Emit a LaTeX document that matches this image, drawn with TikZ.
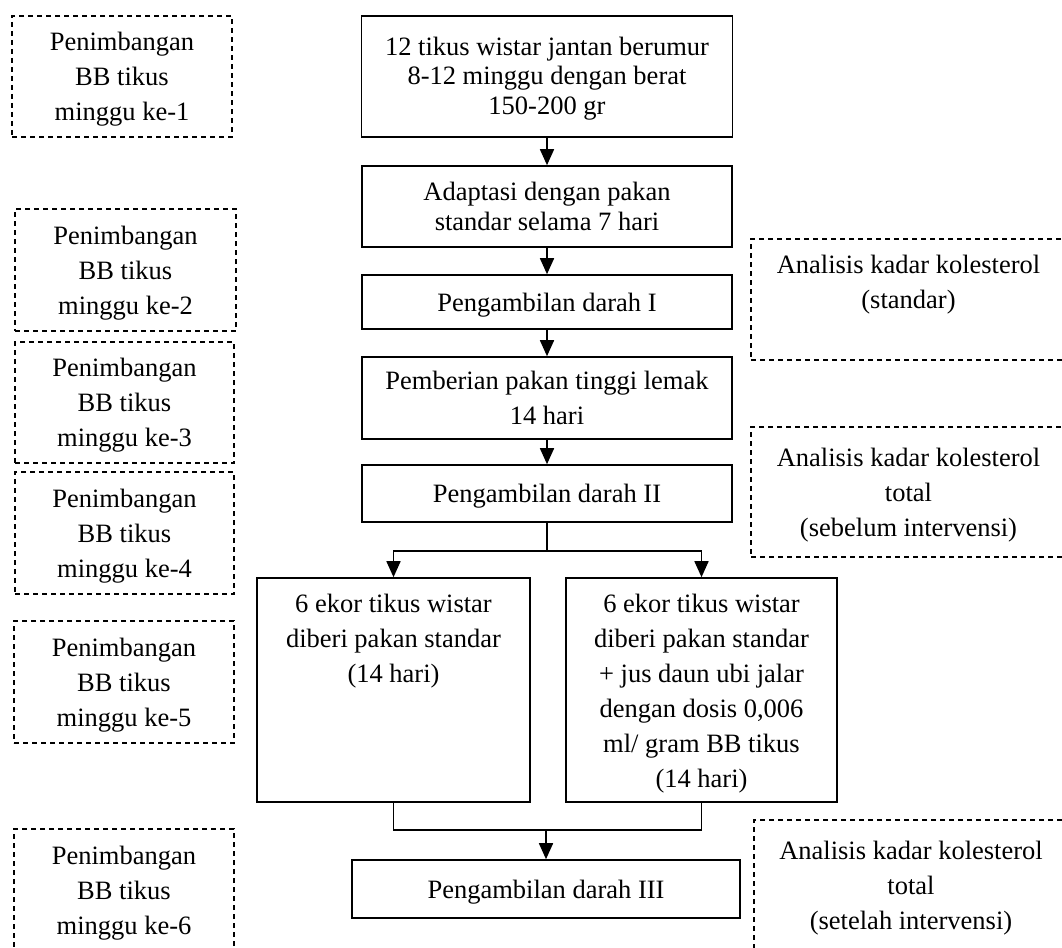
\documentclass[tikz,border=0pt]{standalone}
\usepackage{fontspec}
\setmainfont{Liberation Serif}
\usetikzlibrary{arrows.meta,calc}
\newcommand\fs[1]{\fontsize{26.5pt}{#1pt}\selectfont}
\newcommand\st{\rule[\dimexpr 9pt-0.5\baselineskip\relax]{0pt}{\baselineskip}}
\begin{document}
\begin{tikzpicture}[x=1pt,y=-1pt,
  boxline/.style={draw, line width=1.6pt, inner sep=0pt},
  solidbox/.style={boxline, align=center, font={\fs{35}}},
  dashbox/.style={draw, line width=1.4pt, dash pattern=on 5pt off 4pt, inner sep=0pt, align=center, font={\fs{35}}},
  conn/.style={line width=1.6pt},
  arr/.style={conn, -{Triangle[length=16pt,width=14pt]}}]
\useasboundingbox (0,0) rectangle (1062,947);
\clip (0,0) rectangle (1062,947);
\fill[white] (0,0) rectangle (1062,947);

% main column
\node[solidbox, font={\fs{27}}, minimum width=371pt, minimum height=121pt] (b1) at (547,76.5)
  {\st 12 tikus wistar jantan berumur\\\st 8-12 minggu dengan berat\\\st 150-200 gr};
\node[solidbox, font={\fs{29}}, minimum width=370pt, minimum height=81pt] (b2) at (547,206.5)
  {\st Adaptasi dengan pakan\\\st standar selama 7 hari};
\node[solidbox, minimum width=370pt, minimum height=54pt] (b3) at (547,302)
  {\st Pengambilan darah I};
\node[solidbox, minimum width=370pt, minimum height=82pt] (b4) at (547,398)
  {\st Pemberian pakan tinggi lemak\\\st 14 hari};
\node[solidbox, minimum width=370pt, minimum height=57pt] (b5) at (547,493.5)
  {\st Pengambilan darah II};
\node[boxline, font={\fs{35}}] (b6) at (393.5,690)
  {\parbox[c][224pt][t]{273pt}{\centering\vspace*{7.5pt}\st 6 ekor tikus wistar\\\st diberi pakan standar\\\st (14 hari)}};
\node[boxline, font={\fs{35}}] (b7) at (701.5,690)
  {\parbox[c][224pt][t]{271pt}{\centering\vspace*{7.5pt}\st 6 ekor tikus wistar\\\st diberi pakan standar\\\st + jus daun ubi jalar\\\st dengan dosis 0,006\\\st ml/ gram BB tikus\\\st (14 hari)}};
\node[solidbox, minimum width=388pt, minimum height=58pt] (b8) at (546,889)
  {\st Pengambilan darah III};

% left dashed column
\node[dashbox, minimum width=220pt, minimum height=121pt] (d1) at (122,76.5)
  {\st Penimbangan\\\st BB tikus\\\st minggu ke-1};
\node[dashbox, minimum width=221pt, minimum height=122pt] (d2) at (125.5,270)
  {\st Penimbangan\\\st BB tikus\\\st minggu ke-2};
\node[dashbox, minimum width=219pt, minimum height=121pt] (d3) at (124.5,402.5)
  {\st Penimbangan\\\st BB tikus\\\st minggu ke-3};
\node[dashbox, minimum width=219pt, minimum height=122pt] (d4) at (124.5,533)
  {\st Penimbangan\\\st BB tikus\\\st minggu ke-4};
\node[dashbox, minimum width=220pt, minimum height=122pt] (d5) at (124,682)
  {\st Penimbangan\\\st BB tikus\\\st minggu ke-5};
\node[dashbox, minimum width=220pt, minimum height=122pt] (d6) at (124,890)
  {\st Penimbangan\\\st BB tikus\\\st minggu ke-6};

% right dashed column
\node[dashbox, minimum width=315pt, minimum height=121pt] (r1) at (908.5,299.5)
  {\st Analisis kadar kolesterol\\\st (standar)\\\st};
\node[dashbox, minimum width=315pt, minimum height=130pt] (r2) at (908.5,492)
  {\st Analisis kadar kolesterol\\\st total\\\st (sebelum intervensi)};
\node[dashbox, minimum width=314pt, minimum height=130pt] (r3) at (911,885)
  {\st Analisis kadar kolesterol\\\st total\\\st (setelah intervensi)};

% connectors
\draw[arr] (b1.south) -- (b2.north);
\draw[arr] (b2.south) -- (b3.north);
\draw[arr] (b3.south) -- (b4.north);
\draw[arr] (b4.south) -- (b5.north);
\draw[conn] (b5.south) -- ++(0,28) coordinate (sp);
\draw[arr] (sp) -| (b6.north);
\draw[arr] (sp) -| (b7.north);
\coordinate (mg) at ($(b8.north)+(0,-29)$);
\draw[conn] (b6.south) |- (mg);
\draw[conn] (b7.south) |- (mg);
\draw[arr] (mg) -- (b8.north);
\end{tikzpicture}
\end{document}
